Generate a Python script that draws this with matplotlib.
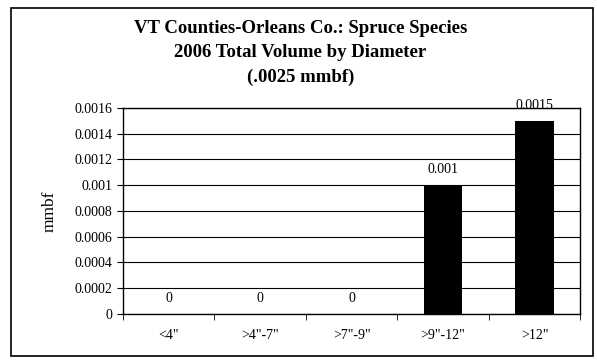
import matplotlib.pyplot as plt
from matplotlib.patches import Rectangle

categories = ['<4"', '>4"-7"', '>7"-9"', '>9"-12"', '>12"']
volumes = [0, 0, 0, 0.001, 0.0015]
value_labels = ['0', '0', '0', '0.001', '0.0015']
yticks = [0, 0.0002, 0.0004, 0.0006, 0.0008, 0.001, 0.0012, 0.0014, 0.0016]
ytick_labels = ['0', '0.0002', '0.0004', '0.0006', '0.0008', '0.001', '0.0012', '0.0014', '0.0016']

plt.rcParams['font.family'] = 'Liberation Serif'

fig = plt.figure(figsize=(5.97, 3.6), dpi=100)
fig.patches.append(Rectangle((0.018, 0.01), 0.975, 0.968, transform=fig.transFigure,
                             fill=False, edgecolor='black', linewidth=1.2))

ax = fig.add_axes([0.206, 0.128, 0.766, 0.572])
x = range(len(categories))
ax.bar(x, volumes, width=0.42, color='black', zorder=3)
for i, (v, lab) in enumerate(zip(volumes, value_labels)):
    ax.text(i, v + 0.00007, lab, ha='center', va='bottom', fontsize=10)

ax.set_xlim(-0.5, len(categories) - 0.5)
ax.set_ylim(0, 0.0016)
ax.set_yticks(yticks)
ax.set_yticklabels(ytick_labels, fontsize=10)
ax.set_xticks(x)
ax.set_xticklabels(categories, fontsize=10)
ax.tick_params(axis='x', length=0, pad=11)
ax.set_xticks([i - 0.5 for i in range(len(categories) + 1)], minor=True)
ax.tick_params(axis='x', which='minor', length=4, direction='out')
ax.tick_params(axis='y', length=4, direction='out')
ax.yaxis.grid(True, color='black', linewidth=0.8, zorder=0)
for s in ax.spines.values():
    s.set_linewidth(1.0)

ax.set_ylabel('mmbf', fontsize=12.5, labelpad=12)
fig.text(0.503, 0.945, 'VT Counties-Orleans Co.: Spruce Species\n2006 Total Volume by Diameter\n(.0025 mmbf)',
         ha='center', va='top', fontsize=13.5, fontweight='bold', linespacing=1.55)

fig.savefig('out.png', dpi=100)
